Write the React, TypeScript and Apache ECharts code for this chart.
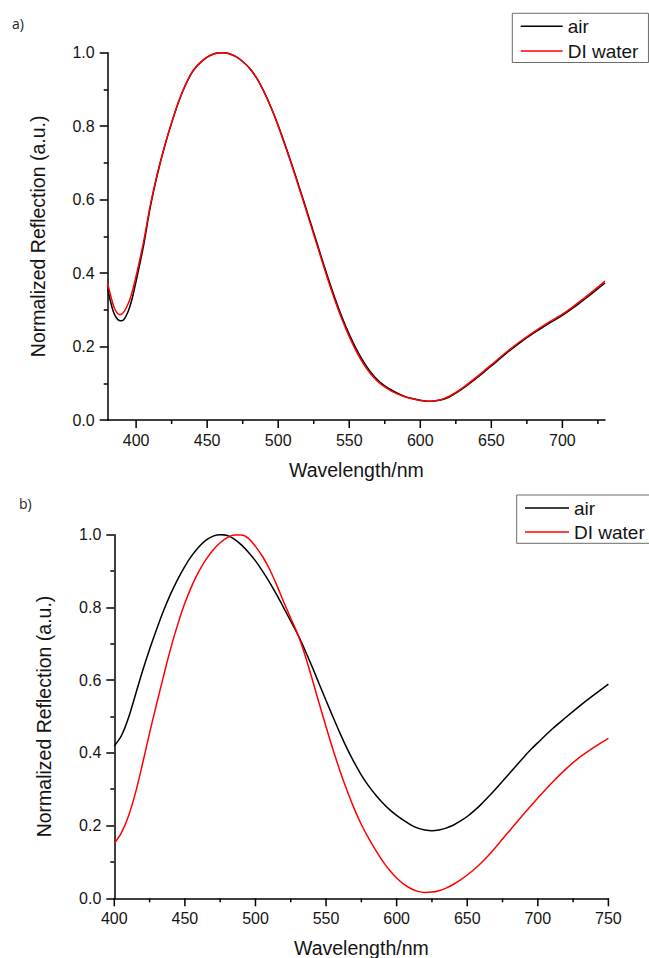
import { useEffect, useRef } from "react";
import * as echarts from "echarts";

// ---------- Data ----------
const seriesNames = ["air", "DI water"];
const panelLabels = ["a)", "b)"];
const xTitle = "Wavelength/nm";
const yTitle = "Normalized Reflection (a.u.)";

// Panel a)
const wavelengthA = [
  380, 382, 384, 386, 388, 390, 392, 394, 396, 398, 400, 405, 410, 415, 420, 425, 430, 435, 440, 445,
  450, 455, 460, 465, 470, 475, 480, 485, 490, 495, 500, 505, 510, 515, 520, 525, 530, 535, 540, 545,
  550, 555, 560, 565, 570, 575, 580, 585, 590, 595, 600, 605, 610, 615, 620, 625, 630, 635, 640, 645,
  650, 660, 670, 680, 690, 700, 710, 720, 730,
];
const airA = [
  0.358, 0.322, 0.295, 0.279, 0.271, 0.27, 0.277, 0.292, 0.314, 0.343, 0.378, 0.47, 0.58, 0.669, 0.744, 0.809, 0.867, 0.914, 0.95, 0.972,
  0.988, 0.997, 1.0, 0.998, 0.99, 0.976, 0.957, 0.93, 0.894, 0.851, 0.802, 0.748, 0.691, 0.632, 0.571, 0.51, 0.448, 0.388, 0.331, 0.279,
  0.233, 0.193, 0.159, 0.131, 0.109, 0.093, 0.081, 0.071, 0.063, 0.058, 0.054, 0.051, 0.052, 0.055, 0.062, 0.073, 0.086, 0.1, 0.115, 0.131,
  0.147, 0.18, 0.21, 0.237, 0.262, 0.285, 0.312, 0.342, 0.373,
];
const waterA = [
  0.372, 0.34, 0.312, 0.295, 0.287, 0.289, 0.298, 0.313, 0.333, 0.36, 0.392, 0.48, 0.585, 0.672, 0.745, 0.81, 0.868, 0.915, 0.951, 0.973,
  0.988, 0.997, 1.0, 0.998, 0.99, 0.976, 0.957, 0.93, 0.893, 0.85, 0.8, 0.745, 0.688, 0.628, 0.567, 0.505, 0.443, 0.382, 0.325, 0.273,
  0.227, 0.187, 0.153, 0.126, 0.105, 0.09, 0.078, 0.069, 0.062, 0.057, 0.053, 0.051, 0.052, 0.056, 0.064, 0.075, 0.088, 0.103, 0.118, 0.134,
  0.15, 0.183, 0.213, 0.24, 0.265, 0.288, 0.316, 0.346, 0.378,
];
const xRangeA = [380, 730];
const xMajorTicksA = [400, 450, 500, 550, 600, 650, 700];
const xMinorTicksA = [425, 475, 525, 575, 625, 675, 725];

// Panel b)
const wavelengthB = [
  400, 405, 410, 415, 420, 425, 430, 435, 440, 445, 450, 455, 460, 465, 470, 475, 480, 485, 490, 495,
  500, 505, 510, 515, 520, 525, 530, 535, 540, 545, 550, 555, 560, 565, 570, 575, 580, 585, 590, 595,
  600, 605, 610, 615, 620, 625, 630, 635, 640, 645, 650, 655, 660, 665, 670, 675, 680, 685, 690, 695,
  700, 710, 720, 730, 740, 750,
];
const airB = [
  0.419, 0.447, 0.496, 0.56, 0.625, 0.685, 0.74, 0.792, 0.838, 0.878, 0.913, 0.943, 0.967, 0.985, 0.996, 1.0, 0.998, 0.988, 0.972, 0.952,
  0.928, 0.9, 0.869, 0.835, 0.799, 0.762, 0.725, 0.683, 0.638, 0.591, 0.544, 0.498, 0.453, 0.411, 0.373, 0.339, 0.31, 0.285, 0.263, 0.244,
  0.228, 0.214, 0.202, 0.193, 0.188, 0.186, 0.188, 0.193, 0.201, 0.212, 0.225, 0.241, 0.259, 0.279, 0.3, 0.322, 0.344, 0.366, 0.388, 0.409,
  0.428, 0.465, 0.498, 0.53, 0.56, 0.589,
];
const waterB = [
  0.151, 0.18, 0.226, 0.29, 0.37, 0.455, 0.535, 0.613, 0.688, 0.754, 0.812, 0.86, 0.9, 0.932, 0.958, 0.978, 0.992, 0.999, 0.999, 0.99,
  0.968, 0.94, 0.905, 0.862, 0.815, 0.77, 0.726, 0.67, 0.605, 0.538, 0.472, 0.408, 0.349, 0.295, 0.246, 0.203, 0.166, 0.133, 0.103, 0.077,
  0.056, 0.039, 0.027, 0.019, 0.016, 0.017, 0.021, 0.028, 0.038, 0.05, 0.064, 0.08, 0.098, 0.118, 0.14, 0.163, 0.186, 0.209, 0.232, 0.254,
  0.276, 0.318, 0.356, 0.389, 0.416, 0.44,
];
const xRangeB = [400, 750];
const xMajorTicksB = [400, 450, 500, 550, 600, 650, 700, 750];
const xMinorTicksB = [425, 475, 525, 575, 625, 675, 725];

// ---------- Styling ----------
const FONT = '"Liberation Sans", Arial, Helvetica, sans-serif';
const TEXT = "#141414";
const AXIS = "#000000";
const RED = "#ff0000";
const MAJOR_LEN = 8;
const MINOR_LEN = 4;

function yAxis(gridIndex: number) {
  return {
    type: "value",
    gridIndex,
    min: 0,
    max: 1,
    interval: 0.2,
    name: yTitle,
    nameLocation: "middle",
    nameGap: 60,
    nameRotate: 90,
    nameTextStyle: { fontFamily: FONT, fontSize: 19.5, color: TEXT },
    axisLine: { show: true, onZero: false, lineStyle: { color: AXIS, width: 1.5 } },
    axisTick: { show: true, length: MAJOR_LEN, lineStyle: { color: AXIS, width: 1.5 } },
    minorTick: { show: true, splitNumber: 2, length: MINOR_LEN, lineStyle: { color: AXIS, width: 1.5 } },
    axisLabel: { fontFamily: FONT, fontSize: 16, color: TEXT, margin: 13, formatter: (v: number) => v.toFixed(1) },
    splitLine: { show: false },
    minorSplitLine: { show: false },
  };
}

function xAxis(gridIndex: number, range: number[], labels: number[]) {
  return {
    type: "value",
    gridIndex,
    position: "bottom",
    min: range[0],
    max: range[1],
    name: xTitle,
    nameLocation: "middle",
    nameGap: 40,
    nameTextStyle: { fontFamily: FONT, fontSize: 19.5, color: TEXT },
    axisLine: { show: true, onZero: false, lineStyle: { color: AXIS, width: 1.5 } },
    axisTick: { show: false },
    minorTick: { show: false },
    axisLabel: { fontFamily: FONT, fontSize: 16, color: TEXT, margin: 12, customValues: labels },
    splitLine: { show: false },
    minorSplitLine: { show: false },
  };
}

function legend(left: number, top: number, itemWidth: number, itemGap: number, padding: number[]) {
  return {
    data: seriesNames,
    orient: "vertical",
    left,
    top,
    padding,
    itemWidth,
    itemHeight: 14,
    itemGap,
    icon: `path://M0,0 L${itemWidth},0 L${itemWidth},1.5 L0,1.5 Z`,
    backgroundColor: "#ffffff",
    borderColor: "#6b6b6b",
    borderWidth: 1,
    borderRadius: 0,
    selectedMode: false,
    textStyle: { fontFamily: FONT, fontSize: 19, color: TEXT, lineHeight: 20 },
  };
}

function lineSeries(name: string, xs: number[], ys: number[], gi: number, color: string, z: number) {
  return {
    type: "line",
    name,
    xAxisIndex: gi,
    yAxisIndex: gi,
    data: xs.map((x, i) => [x, ys[i]]),
    symbol: "none",
    smooth: 0.3,
    lineStyle: { color, width: 1.5 },
    itemStyle: { color },
    z,
  };
}

// x-axis tick marks placed through the axis scale (api.coord)
function tickSeries(gi: number, xMajor: number[], xMinor: number[]) {
  const data = [...xMajor.map((v) => [v, 0, MAJOR_LEN]), ...xMinor.map((v) => [v, 0, MINOR_LEN])];
  return {
    type: "custom",
    name: "xticks" + gi,
    xAxisIndex: gi,
    yAxisIndex: gi,
    data,
    clip: false,
    silent: true,
    z: 50,
    encode: { x: 0, y: 1 },
    renderItem: (_params: any, api: any) => {
      const p = api.coord([api.value(0), api.value(1)]);
      return {
        type: "line",
        shape: { x1: p[0], y1: p[1], x2: p[0], y2: p[1] + api.value(2) },
        style: { stroke: AXIS, lineWidth: 1.5 },
      };
    },
  };
}

export default function App() {
  const ref = useRef<HTMLDivElement>(null);

  useEffect(() => {
    if (!ref.current) return;
    const chart = echarts.init(ref.current, null, { renderer: "svg" });
    chart.setOption({
      animation: false,
      backgroundColor: "#ffffff",
      textStyle: { fontFamily: FONT },
      grid: [
        { left: 107.7, right: 44, top: 52.7, bottom: 538, outerBoundsMode: "none", containLabel: false },
        { left: 114.3, right: 40.6, top: 534.7, bottom: 59.7, outerBoundsMode: "none", containLabel: false },
      ],
      xAxis: [xAxis(0, xRangeA, xMajorTicksA), xAxis(1, xRangeB, xMajorTicksB)],
      yAxis: [yAxis(0), yAxis(1)],
      legend: [
        legend(512.3, 13.3, 42, 4.7, [3, 10, 1.5, 8.4]),
        legend(516.7, 495, 44, 4, [3, 12, 1.3, 8.3]),
      ],
      graphic: [
        { type: "text", left: 12, top: 16, style: { text: panelLabels[0], fontFamily: '"Open Sans", "Noto Sans", sans-serif', fontSize: 14, fill: "#222" } },
        { type: "text", left: 19, top: 496, style: { text: panelLabels[1], fontFamily: '"Open Sans", "Noto Sans", sans-serif', fontSize: 14, fill: "#222" } },
      ],
      series: [
        lineSeries(seriesNames[0], wavelengthA, airA, 0, "#000000", 2),
        lineSeries(seriesNames[1], wavelengthA, waterA, 0, RED, 3),
        lineSeries(seriesNames[0], wavelengthB, airB, 1, "#000000", 2),
        lineSeries(seriesNames[1], wavelengthB, waterB, 1, RED, 3),
        tickSeries(0, xMajorTicksA, xMinorTicksA),
        tickSeries(1, xMajorTicksB, xMinorTicksB),
      ],
    } as any);
    return () => chart.dispose();
  }, []);

  return (
    <div
      ref={ref}
      style={{ position: "absolute", left: 0, top: 0, width: 649, height: 958, background: "#ffffff" }}
    />
  );
}
